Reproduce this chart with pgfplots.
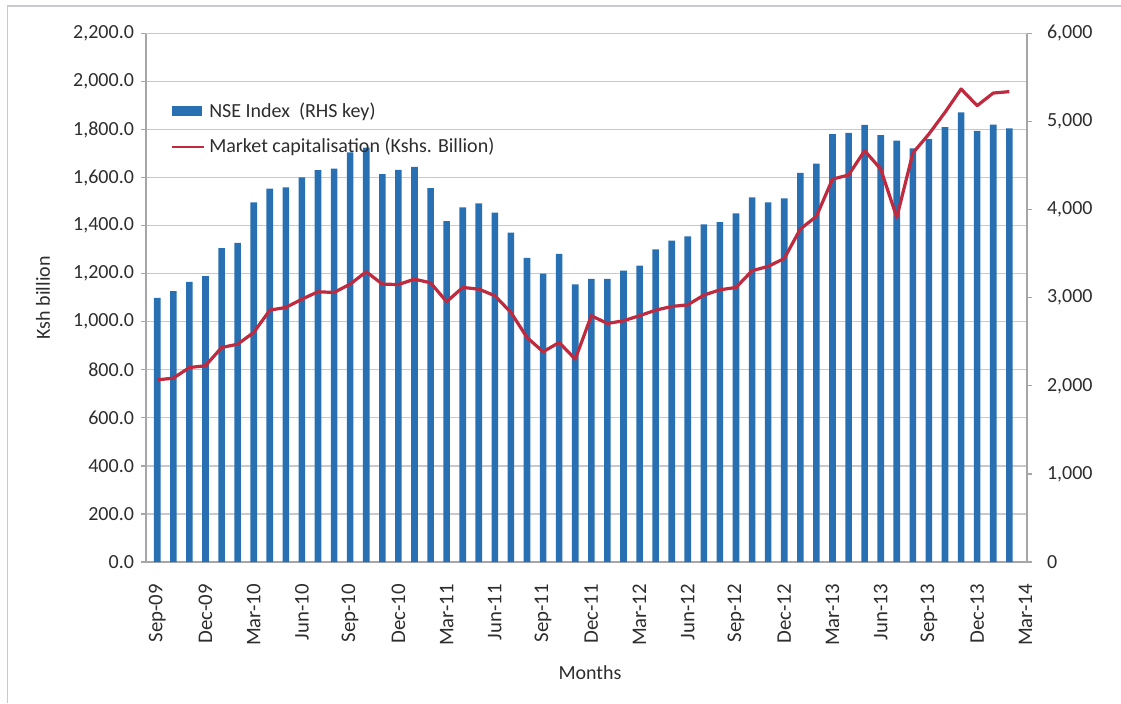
\documentclass[border=0pt]{standalone}
\usepackage{fontspec}
\setmainfont{Carlito}
\usepackage{pgfplots}
\pgfplotsset{compat=1.18}
\usepackage{pgfplotstable}

\definecolor{barblue}{RGB}{40,112,178}
\definecolor{linered}{RGB}{192,42,62}
\definecolor{gridgray}{RGB}{200,200,206}
\definecolor{axisgray}{RGB}{165,165,170}
\definecolor{textgray}{RGB}{45,45,45}

\pgfplotstableread{
x y
0 1100
1 1128
2 1166
3 1190
4 1307
5 1328
6 1497
7 1554
8 1559
9 1601
10 1631
11 1638
12 1705
13 1725
14 1615
15 1632
16 1645
17 1556
18 1419
19 1476
20 1493
21 1454
22 1371
23 1266
24 1200
25 1283
26 1156
27 1179
28 1179
29 1213
30 1234
31 1301
32 1338
33 1355
34 1405
35 1415
36 1451
37 1518
38 1497
39 1514
40 1620
41 1658
42 1781
43 1786
44 1820
45 1777
46 1754
47 1722
48 1760
49 1810
50 1872
51 1795
52 1821
53 1805
}\bardata

\pgfplotstableread{
x y
0 2068
1 2087
2 2208
3 2228
4 2435
5 2473
6 2606
7 2859
8 2890
9 2984
10 3068
11 3060
12 3155
13 3295
14 3155
15 3150
16 3211
17 3170
18 2955
19 3117
20 3098
21 3023
22 2833
23 2549
24 2387
25 2492
26 2303
27 2796
28 2708
29 2739
30 2796
31 2859
32 2901
33 2920
34 3030
35 3090
36 3117
37 3307
38 3356
39 3446
40 3780
41 3924
42 4347
43 4393
44 4670
45 4461
46 3912
47 4643
48 4859
49 5105
50 5370
51 5181
52 5324
53 5340
}\linedata

\pgfplotsset{
  common/.style={
    at={(73pt,70.5pt)}, anchor=south west, scale only axis,
    width=440.5pt, height=264.25pt,
    xmin=-0.7, xmax=54.1,
    axis line style={axisgray, line width=0.6pt},
    tick style={axisgray, line width=0.6pt},
    tick align=outside,
    major tick length=2.5pt,
    ticklabel style={font=\fontsize{10}{12}\selectfont, text=textgray},
    label style={font=\fontsize{10}{12}\selectfont, text=textgray},
    /pgf/number format/assume math mode=true,
  }
}

\begin{document}
\begin{tikzpicture}[x=1pt,y=1pt]
\useasboundingbox (0,0) rectangle (560.5,351.5);
\draw[gridgray, line width=0.6pt] (3.75,0) -- (3.75,348.5) -- (560.5,348.5);

\begin{axis}[common,
  ymin=0, ymax=2200,
  ytick={0,200,...,2200},
  ymajorgrids, grid style={gridgray, line width=0.6pt},
  axis x line*=bottom, axis y line*=left,
  xtick={0,3,...,54},
  xticklabels={Sep-09,Dec-09,Mar-10,Jun-10,Sep-10,Dec-10,Mar-11,Jun-11,Sep-11,Dec-11,Mar-12,Jun-12,Sep-12,Dec-12,Mar-13,Jun-13,Sep-13,Dec-13,Mar-14},
  x tick style={draw=none},
  xticklabel style={rotate=90, anchor=east, xshift=-5pt, font=\fontsize{10.4}{12}\selectfont},
  yticklabel style={/pgf/number format/.cd, fixed, fixed zerofill, precision=1, 1000 sep={,}},
  ylabel={Ksh billion},
  ylabel style={at={(axis description cs:-0.117,0.5)}, anchor=center, rotate=0},
  xlabel={Months},
  xlabel style={at={(axis description cs:0.504,-0.21)}, anchor=center},
  legend style={at={(axis description cs:0.021,0.885)}, anchor=north west, draw=none, fill=none,
    font=\fontsize{10}{12}\selectfont, text=textgray, row sep=5pt,
    /tikz/every even column/.append style={column sep=0pt}},
  legend cell align=left,
]
\addplot[ybar, bar width=3.3pt, fill=barblue, draw=none,
  legend image code/.code={\fill[barblue] (0pt,-2.5pt) rectangle (15pt,2.5pt);}]
  table[x=x,y=y] {\bardata};
\addlegendentry{NSE Index\ \ (RHS key)}
\addlegendimage{linered, line width=1.2pt, legend image code/.code={\draw[linered, line width=1.2pt] (0pt,0pt) -- (16pt,0pt);}}
\addlegendentry{Market capitalisation (Kshs. Billion)}
\end{axis}

\begin{axis}[common,
  ymin=0, ymax=6000,
  ytick={0,1000,...,6000},
  axis y line*=right, axis x line=none,
  yticklabel style={/pgf/number format/.cd, fixed, precision=0, 1000 sep={,}, /tikz/xshift=4pt},
]
\addplot[linered, line width=1.6pt, line join=round] table[x=x,y=y] {\linedata};
\end{axis}
\end{tikzpicture}
\end{document}
